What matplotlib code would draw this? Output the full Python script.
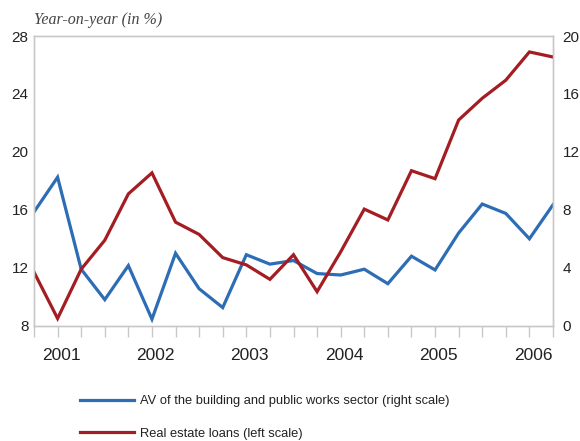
import numpy as np
import matplotlib
matplotlib.use("Agg")
import matplotlib.pyplot as plt

# quarterly observations, left scale = real estate loans, right scale = AV of building sector
quarters = np.arange(23)
year_labels = ["2001", "2002", "2003", "2004", "2005", "2006"]
year_pos = [1, 5, 9, 13, 17, 21]

loans = [11.7, 8.5, 11.9, 13.9, 17.1, 18.55, 15.15, 14.3, 12.7, 12.2, 11.2, 12.9,
         10.35, 13.1, 16.05, 15.3, 18.7, 18.15, 22.2, 23.7, 24.95, 26.9, 26.55]
av_btp = [7.85, 10.25, 3.9, 1.8, 4.15, 0.45, 5.0, 2.55, 1.25, 4.9, 4.25, 4.5,
          3.6, 3.5, 3.9, 2.9, 4.8, 3.85, 6.4, 8.4, 7.75, 6.0, 8.35]

blue = "#2d6db5"
red = "#a31d22"
grey = "#c8c8c8"
txt = "#222222"

plt.rcParams['font.family'] = ['Liberation Sans', 'DejaVu Sans']

fig = plt.figure(figsize=(5.8, 4.41), dpi=100)
ax = fig.add_axes([34/580, 1-325.7/441, (553-34)/580, (325.7-36)/441])
ax2 = ax.twinx()

l_red, = ax.plot(quarters, loans, color=red, lw=2.3, solid_joinstyle='miter')
l_blue, = ax2.plot(quarters, av_btp, color=blue, lw=2.3, solid_joinstyle='miter')
ax.set_zorder(ax2.get_zorder() + 1)
ax.patch.set_visible(False)

ax.set_xlim(0, 22)
ax.set_ylim(8, 28)
ax.set_yticks([8, 12, 16, 20, 24, 28])
ax2.set_ylim(0, 20)
ax2.set_yticks([0, 4, 8, 12, 16, 20])

ax.set_xticks(quarters)
ax.set_xticklabels([])
ax.set_xticks(np.array(year_pos) + 0.15, minor=True)
ax.set_xticklabels(year_labels, minor=True, fontsize=12.5, color=txt)
ax.tick_params(axis='x', which='major', length=8, color=grey, width=1)
ax.tick_params(axis='x', which='minor', length=0, pad=16)

ax.tick_params(axis='y', length=0, labelsize=11, labelcolor=txt, pad=4)
ax2.tick_params(axis='y', length=0, labelsize=11, labelcolor=txt, pad=7)

for a in (ax, ax2):
    for s in a.spines.values():
        s.set_color(grey)
        s.set_linewidth(1)

fig.text(34/580, 1-20/441, "Year-on-year (in %)", family=['Liberation Serif'],
         style='italic', fontsize=11.5, color="#444444", va='center', ha='left')

fig.legend([l_blue, l_red],
           ["AV of the building and public works sector (right scale)",
            "Real estate loans (left scale)"],
           loc='upper left', bbox_to_anchor=(80/580, 1-395/441), frameon=False,
           fontsize=9.3, handlelength=4.2, handletextpad=0.45, labelspacing=1.6,
           borderpad=0, borderaxespad=0, labelcolor=txt)

fig.savefig("out.png", dpi=100)
